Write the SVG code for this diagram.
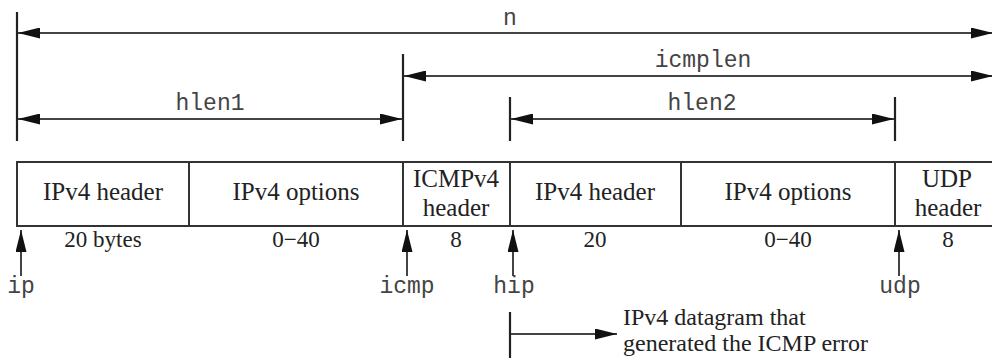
<svg xmlns="http://www.w3.org/2000/svg" width="992" height="358" viewBox="0 0 992 358">
<defs>
<marker id="ah" markerUnits="userSpaceOnUse" markerWidth="22" markerHeight="11" refX="22" refY="5.5" orient="auto-start-reverse" viewBox="0 0 22 11">
<path d="M0,0 L22,5.5 L0,11 z" fill="#111"/>
</marker>
</defs>
<style>
.ln{stroke:#333;stroke-width:2;fill:none}
.tk{stroke:#222;stroke-width:2.2;fill:none}
.ar{stroke:#444;stroke-width:2;fill:none}
.box{stroke:#333;stroke-width:2;fill:#fff}
.mono{font-family:"Liberation Mono","Courier New",monospace;font-size:23px;fill:#444;text-anchor:middle}
.ser{font-family:"Liberation Serif","Times New Roman",serif;font-size:25px;fill:#222;text-anchor:middle}
.sm{font-family:"Liberation Serif","Times New Roman",serif;font-size:23px;fill:#222;text-anchor:middle}
.note{font-family:"Liberation Serif","Times New Roman",serif;font-size:24px;fill:#222}
</style>
<rect width="992" height="358" fill="#fff"/>

<g id="connectors">
  <!-- ticks -->
  <line class="tk" x1="17" y1="12" x2="17" y2="141"/>
  <line class="tk" x1="403" y1="54" x2="403" y2="141"/>
  <line class="tk" x1="510" y1="97" x2="510" y2="141"/>
  <line class="tk" x1="895" y1="97" x2="895" y2="141"/>
  <!-- dimension arrows -->
  <line class="ar" x1="18" y1="33" x2="993" y2="33" marker-start="url(#ah)" marker-end="url(#ah)"/>
  <line class="ar" x1="404" y1="76" x2="993" y2="76" marker-start="url(#ah)" marker-end="url(#ah)"/>
  <line class="ar" x1="18" y1="119" x2="402" y2="119" marker-start="url(#ah)" marker-end="url(#ah)"/>
  <line class="ar" x1="511" y1="119" x2="894" y2="119" marker-start="url(#ah)" marker-end="url(#ah)"/>
  <!-- pointer arrows -->
  <line class="ar" x1="21" y1="276" x2="21" y2="230" marker-end="url(#ah)"/>
  <line class="ar" x1="407" y1="276" x2="407" y2="230" marker-end="url(#ah)"/>
  <line class="ar" x1="513" y1="276" x2="513" y2="230" marker-end="url(#ah)"/>
  <line class="ar" x1="899" y1="276" x2="899" y2="230" marker-end="url(#ah)"/>
  <!-- datagram arrow -->
  <line class="tk" x1="510" y1="312" x2="510" y2="358"/>
  <line class="ar" x1="511" y1="334" x2="617" y2="334" marker-end="url(#ah)"/>
</g>

<g id="dim-labels">
  <text class="mono" x="510" y="25">n</text>
  <text class="mono" x="703" y="67">icmplen</text>
  <text class="mono" x="210" y="110">hlen1</text>
  <text class="mono" x="702" y="110">hlen2</text>
</g>

<g id="ipv4-header">
  <rect class="box" x="17" y="162" width="172" height="64"/>
  <text class="ser" x="103" y="200">IPv4 header</text>
  <text class="sm" x="103" y="247">20 bytes</text>
</g>
<g id="ipv4-options">
  <rect class="box" x="189" y="162" width="214" height="64"/>
  <text class="ser" x="296" y="200">IPv4 options</text>
  <text class="sm" x="296" y="247">0−40</text>
</g>
<g id="icmpv4-header">
  <rect class="box" x="403" y="162" width="107" height="64"/>
  <text class="ser" x="456" y="187">ICMPv4</text>
  <text class="ser" x="456" y="216">header</text>
  <text class="sm" x="456" y="247">8</text>
</g>
<g id="inner-ipv4-header">
  <rect class="box" x="510" y="162" width="171" height="64"/>
  <text class="ser" x="595" y="200">IPv4 header</text>
  <text class="sm" x="595" y="247">20</text>
</g>
<g id="inner-ipv4-options">
  <rect class="box" x="681" y="162" width="214" height="64"/>
  <text class="ser" x="788" y="200">IPv4 options</text>
  <text class="sm" x="788" y="247">0−40</text>
</g>
<g id="udp-header">
  <path class="ln" d="M995,162 H895 V226 H995"/>
  <text class="ser" x="947" y="187">UDP</text>
  <text class="ser" x="948" y="216">header</text>
  <text class="sm" x="948" y="247">8</text>
</g>

<g id="pointer-labels">
  <text class="mono" x="21" y="293">ip</text>
  <text class="mono" x="407" y="293">icmp</text>
  <text class="mono" x="514" y="293">hip</text>
  <text class="mono" x="900" y="293">udp</text>
</g>

<g id="datagram-note">
  <text class="note" x="623" y="325">IPv4 datagram that</text>
  <text class="note" x="623" y="351">generated the ICMP error</text>
</g>
</svg>
